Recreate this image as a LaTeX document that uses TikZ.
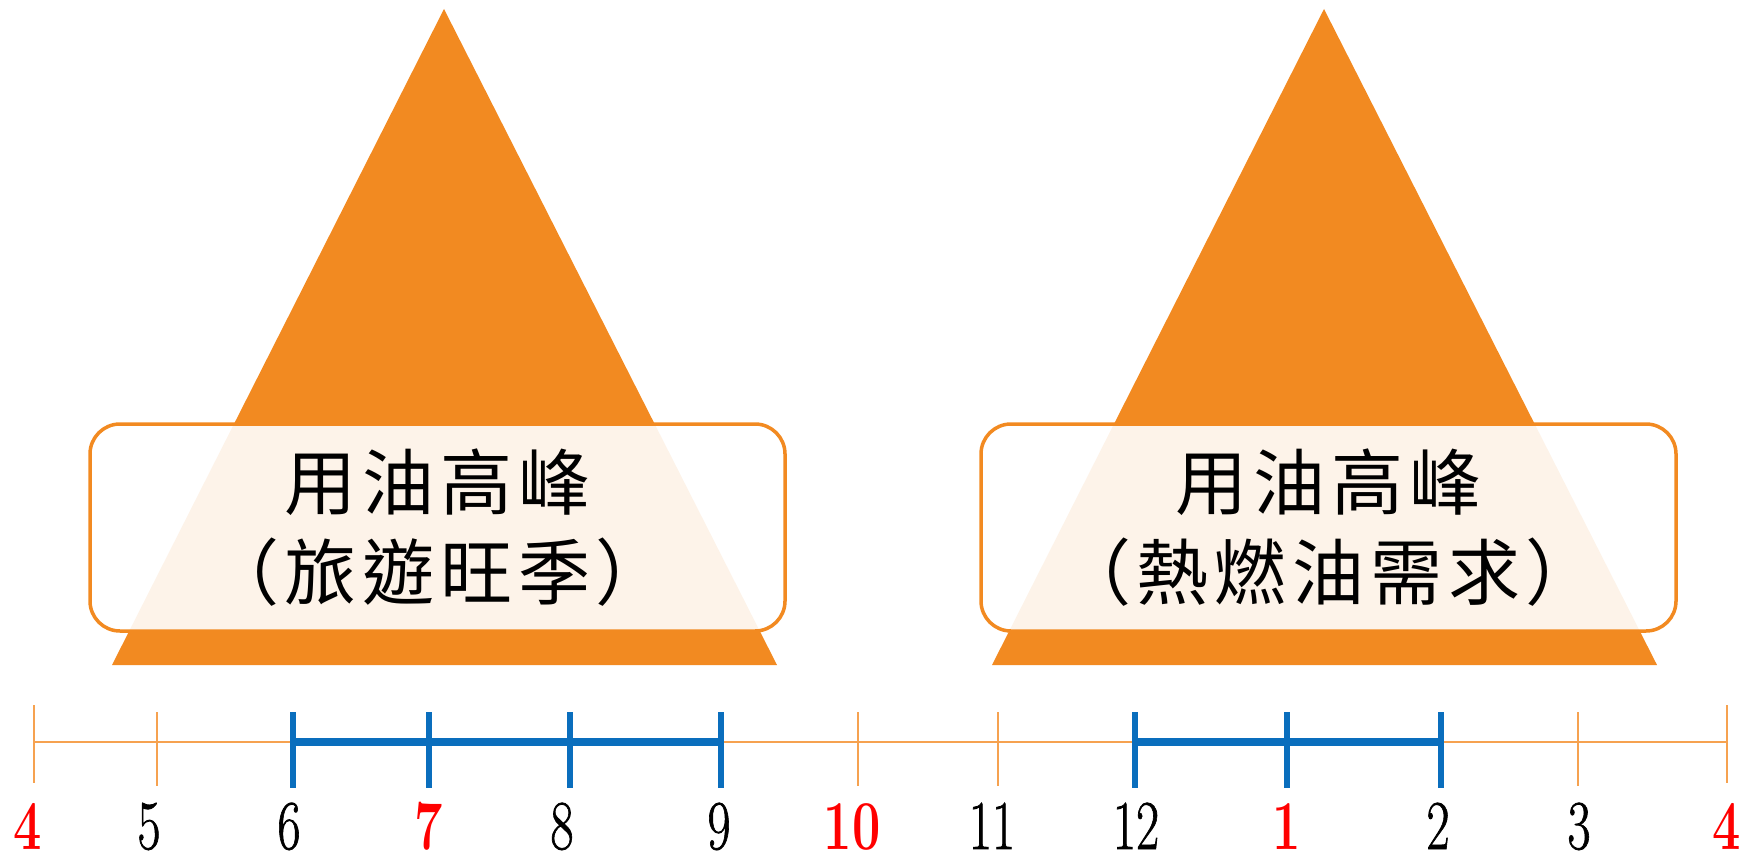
\documentclass[tikz,border=0pt]{standalone}
\usepackage{fontspec}
\newfontfamily\cjk{Noto Sans CJK TC}[LetterSpace=8]
\newfontfamily\numfont{Latin Modern Roman}[FakeBold=1.2]
\definecolor{peakorange}{HTML}{F28A21}
\definecolor{tickorange}{HTML}{F6A250}
\definecolor{spanblue}{HTML}{0A6EBD}
\definecolor{hotred}{HTML}{FF0000}
\tikzset{
  peak/.style={fill=peakorange, draw=none},
  labelbox/.style={draw=peakorange, line width=3.5pt, rounded corners=30pt, fill=white, fill opacity=0.9, text opacity=1,
    minimum width=695pt, minimum height=207pt, align=center, inner sep=0pt,
    font=\cjk\fontsize{72pt}{90pt}\selectfont},
  axisline/.style={draw=tickorange, line width=2.5pt},
  thintick/.style={draw=tickorange, line width=1.8pt},
  bluespan/.style={draw=spanblue, line width=8.5pt},
  bluetick/.style={draw=spanblue, line width=5.5pt},
  month/.style={anchor=base, inner sep=0pt, xscale=0.72, font=\numfont\fontsize{70pt}{70pt}\selectfont},
  hotmonth/.style={month, text=hotred, font=\fontsize{70pt}{70pt}\selectfont\bfseries},
}
\begin{document}
\begin{tikzpicture}[x=1pt,y=-1pt]
\useasboundingbox (0,0) rectangle (1758,856);
% triangles
\coordinate (a1) at (444,9);
\coordinate (l1) at (112,665);
\coordinate (r1) at (777,665);
\coordinate (a2) at (1324,9);
\coordinate (l2) at (992,665);
\coordinate (r2) at (1657,665);
\fill[peak] (a1) -- (r1) -- (l1) -- cycle;
\fill[peak] (a2) -- (r2) -- (l2) -- cycle;
% boxes
\node[labelbox] (box1) at (437.5,527.5) {用油高峰\\（旅遊旺季）};
\node[labelbox] (box2) at (1328.5,527.5) {用油高峰\\（熱燃油需求）};
% axis
\foreach \n/\x in {1/34,2/157,3/293,4/429,5/570,6/721,7/858,8/998,9/1135,10/1287,11/1441,12/1578,13/1727}
  \coordinate (t\n) at (\x,742);
\draw[axisline] (t1) -- (t13);
\foreach \n in {1,13} \draw[thintick] (t\n) ++(0,-37) -- ++(0,78);
\foreach \n in {2,7,8,12} \draw[thintick] (t\n) ++(0,-30) -- ++(0,74);
\draw[bluespan] (t3) -- (t6);
\draw[bluespan] (t9) -- (t11);
\foreach \n in {3,4,5,6,9,10,11} \draw[bluetick] (t\n) ++(0,-30) -- ++(0,76);
% labels
\node[hotmonth] (m1) at (28,849) {4};
\node[month] (m2) at (149,849) {5};
\node[month] (m3) at (289,849) {6};
\node[hotmonth] (m4) at (429,849) {7};
\node[month] (m5) at (562,849) {8};
\node[month] (m6) at (719,849) {9};
\node[hotmonth] (m7) at (852,849) {10};
\node[month] (m8) at (992,849) {11};
\node[month] (m9) at (1136,849) {12};
\node[hotmonth] (m10) at (1287,849) {1};
\node[month] (m11) at (1438,849) {2};
\node[month] (m12) at (1579,849) {3};
\node[hotmonth] (m13) at (1727,849) {4};
\end{tikzpicture}
\end{document}
